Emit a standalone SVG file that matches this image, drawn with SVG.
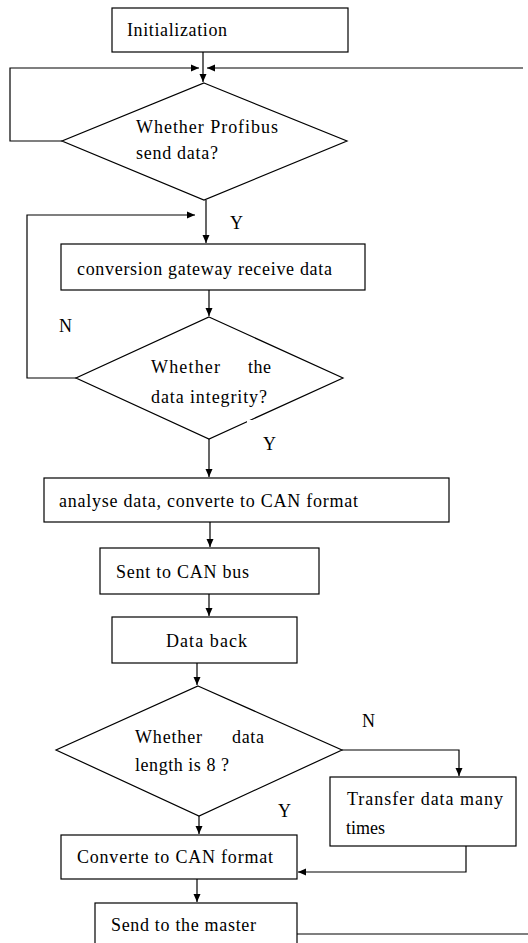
<svg xmlns="http://www.w3.org/2000/svg" width="528" height="943" viewBox="0 0 528 943">
<defs>
<marker id="ah" markerWidth="9" markerHeight="8" refX="8" refY="4" orient="auto" markerUnits="userSpaceOnUse">
<path d="M0,0.5 L8,4 L0,7.5 z" fill="#000"/>
</marker>
<style>
.n{fill:#fff;stroke:#000;stroke-width:1.2}
.t{font-family:"Liberation Serif","Times New Roman",serif;font-size:18px;fill:#000}
.c{fill:none;stroke:#000;stroke-width:1.2}
.a{marker-end:url(#ah)}
</style>
</defs>
<rect width="528" height="943" fill="#fff"/>
<g id="connectors">
<polyline class="c a" points="203,52 203,82"/>
<polyline class="c a" points="62,141 10,141 10,68 199,68"/>
<polyline class="c a" points="523,68 207,68"/>
<polyline class="c a" points="206,200 206,243"/>
<polyline class="c a" points="76,378 27,378 27,215 195,215"/>
<polyline class="c a" points="209,290 209,316"/>
<polyline class="c a" points="209,439 209,477"/>
<polyline class="c a" points="210,522 210,547"/>
<polyline class="c a" points="209,594 209,616"/>
<polyline class="c a" points="197,663 197,685"/>
<polyline class="c a" points="342,750 459,750 459,776"/>
<polyline class="c a" points="466,846 466,872 298,872"/>
<polyline class="c a" points="199,816 199,834"/>
<polyline class="c a" points="197,879 197,902"/>
<polyline class="c" points="297,934 528,934"/>
</g>
<g id="init">
<rect class="n" x="112" y="8" width="236" height="44"/>
<text class="t" x="127" y="36" textLength="100">Initialization</text>
</g>
<g id="d1">
<polygon class="n" points="204,83 347,141 204,200 62,141"/>
<text class="t" x="136" y="133" textLength="142">Whether Profibus</text>
<text class="t" x="136" y="159" textLength="82">send data?</text>
</g>
<g id="recv">
<rect class="n" x="61" y="244" width="304" height="46"/>
<text class="t" x="77" y="275" textLength="255">conversion gateway receive data</text>
</g>
<g id="d2">
<polygon class="n" points="209,317 343,378 209,439 76,378"/>
<text class="t" x="151" y="373" textLength="69">Whether</text>
<text class="t" x="248" y="373" textLength="23">the</text>
<text class="t" x="151" y="403" textLength="116">data integrity?</text>
</g>
<g id="analyse">
<rect class="n" x="44" y="478" width="405" height="44"/>
<text class="t" x="59" y="507" textLength="299">analyse data, converte to CAN format</text>
</g>
<g id="sent">
<rect class="n" x="100" y="548" width="219" height="46"/>
<text class="t" x="116" y="578" textLength="133">Sent to CAN bus</text>
</g>
<g id="back">
<rect class="n" x="112" y="617" width="185" height="46"/>
<text class="t" x="166" y="647" textLength="81">Data back</text>
</g>
<g id="d3">
<polygon class="n" points="198,686 342,750 199,816 56,750"/>
<text class="t" x="135" y="743" textLength="67">Whether</text>
<text class="t" x="232" y="743" textLength="32">data</text>
<text class="t" x="135" y="771" textLength="94">length is 8 ?</text>
</g>
<g id="transfer">
<rect class="n" x="330" y="777" width="186" height="69"/>
<text class="t" x="347" y="805" textLength="156">Transfer data many</text>
<text class="t" x="346" y="834">times</text>
</g>
<g id="conv">
<rect class="n" x="61" y="835" width="236" height="44"/>
<text class="t" x="77" y="863" textLength="196">Converte to CAN format</text>
</g>
<g id="master">
<rect class="n" x="95" y="903" width="202" height="60"/>
<text class="t" x="111" y="931" textLength="145">Send to the master</text>
</g>
<g id="labels">
<text class="t" x="230" y="229">Y</text>
<text class="t" x="59" y="332">N</text>
<rect x="247" y="420" width="48" height="36" fill="#fff"/>
<text class="t" x="263" y="450">Y</text>
<text class="t" x="362" y="727">N</text>
<text class="t" x="278" y="817">Y</text>
</g>
</svg>
